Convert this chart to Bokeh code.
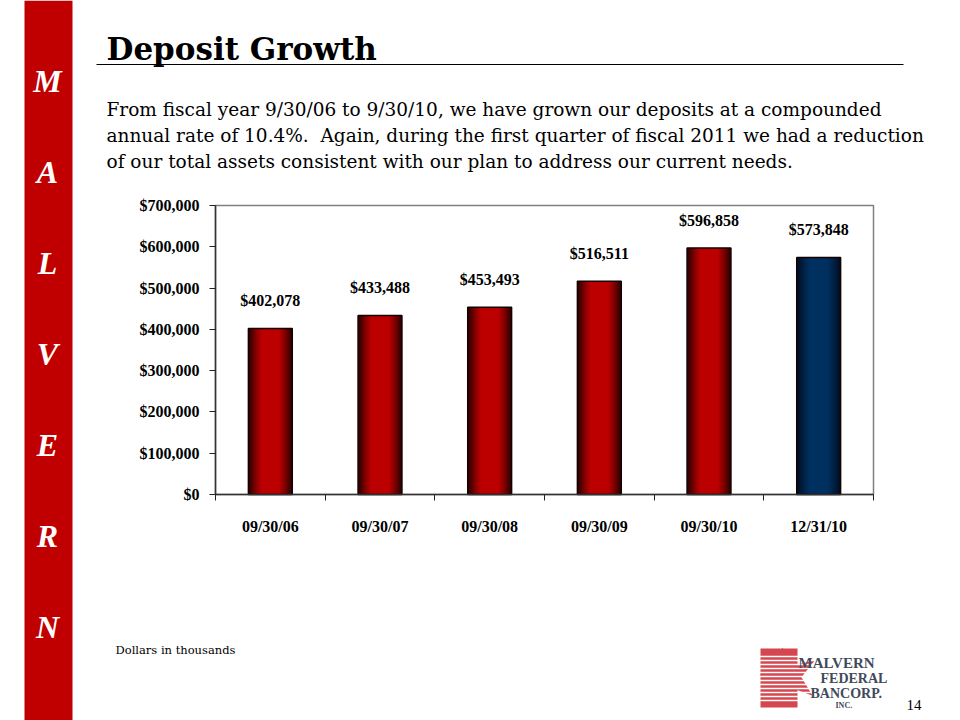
from bokeh.plotting import figure
from bokeh.models import (Range1d, FixedTicker, NumeralTickFormatter, ColumnDataSource,
                          LinearAxis)
from bokeh.core.properties import value
from bokeh.embed import file_html
from bokeh.resources import INLINE
import math

# ---------------- data ----------------
categories = ["09/30/06", "09/30/07", "09/30/08", "09/30/09", "09/30/10", "12/31/10"]
deposits = [402078, 433488, 453493, 516511, 596858, 573848]
bar_kind = ["fiscal", "fiscal", "fiscal", "fiscal", "fiscal", "quarter"]
y_ticks = [0, 100000, 200000, 300000, 400000, 500000, 600000, 700000]

title_text = "Deposit Growth"
body_lines = [
    "From fiscal year 9/30/06 to 9/30/10, we have grown our deposits at a compounded",
    "annual rate of 10.4%.\u00a0 Again, during the first quarter of fiscal 2011 we had a reduction",
    "of our total assets consistent with our plan to address our current needs.",
]
side_letters = ["M", "A", "L", "V", "E", "R", "N"]
note_text = "Dollars in thousands"
page_number = "14"
logo_lines = ["MALVERN", "FEDERAL", "BANCORP.", "INC."]

# ---------------- page geometry (pixels) ----------------
PAGE_W, PAGE_H = 960, 720
FL, FT, FW, FH = 215, 205, 658, 289          # chart plot area on the page
FB = FT + FH
N = len(categories)
Y_MAX = y_ticks[-1]

p = figure(width=PAGE_W, height=PAGE_H, x_range=Range1d(0, PAGE_W),
           y_range=Range1d(PAGE_H, 0), output_backend="svg", toolbar_location=None,
           x_axis_location=None, y_axis_location=None,
           min_border=0, min_border_left=0, min_border_right=0,
           min_border_top=0, min_border_bottom=0)
p.grid.visible = False
p.outline_line_color = None
p.background_fill_color = "white"
p.border_fill_color = "white"

# chart scales mapped onto the plot area of the page
px_cat = FW / N
px_dep = FH / Y_MAX
p.extra_x_ranges = {"cat": Range1d(-FL / px_cat, N + (PAGE_W - FL - FW) / px_cat)}
p.extra_y_ranges = {"dep": Range1d(-(PAGE_H - FB) / px_dep, Y_MAX + FT / px_dep)}
CH = dict(x_range_name="cat", y_range_name="dep")


def put(text, x, y, size, font="DejaVu Serif", style="normal", color="black",
        align="left", baseline="alphabetic"):
    p.text(x=[x], y=[y], text=[text], text_font=value(font), text_font_style=style,
           text_font_size=size, text_color=color, text_align=align,
           text_baseline=baseline)


# ---------------- left red band ----------------
p.quad(left=[24], right=[72], top=[0], bottom=[PAGE_H], fill_color="#c00000",
       line_color=None)
for i, letter in enumerate(side_letters):
    put(letter, 47, 80 + i * 91, "32px", font="Liberation Serif",
        style="bold italic", color="white", align="center", baseline="middle")

# ---------------- header ----------------
put(title_text, 106, 48, "31px", font="DejaVu Serif", style="bold")
p.segment(x0=[96], x1=[903], y0=[64], y1=[64], line_color="black", line_width=1)
for i, line in enumerate(body_lines):
    put(line, 106, 109 + i * 26, "18.5px")

# ---------------- chart ----------------
centers = [i + 0.5 for i in range(N)]
bounds = list(range(N + 1))

p.quad(left=[0], right=[N], bottom=[0], top=[Y_MAX], fill_color=None,
       line_color="#808080", line_width=1.5, **CH)

edge = {"fiscal": (45, 0, 0), "quarter": (0, 14, 34)}
mid = {"fiscal": (196, 0, 0), "quarter": (0, 50, 100)}


def shade(kind, f):
    t = 0.0 if f <= 0.35 else min(1.0, (f - 0.35) / 0.65)
    t = t ** 1.3
    a, b = mid[kind], edge[kind]
    return "#%02x%02x%02x" % tuple(int(round(a[i] + (b[i] - a[i]) * t)) for i in range(3))


BAR_W = 0.40
fracs = [1.0, 0.93, 0.86, 0.79, 0.72, 0.65, 0.58, 0.5, 0.42]
for f in fracs:
    src = ColumnDataSource(dict(x=centers, top=deposits,
                                color=[shade(k, f) for k in bar_kind]))
    p.vbar(x="x", top="top", width=BAR_W * f, bottom=0, source=src,
           fill_color="color", line_color=None, **CH)
p.vbar(x=centers, top=deposits, width=BAR_W, bottom=0, fill_alpha=0,
       line_color="#140000", line_width=1.5, **CH)

p.text(x=centers, y=deposits, text=["$" + format(v, ",") for v in deposits],
       y_offset=-28, text_align="center", text_baseline="middle",
       text_font=value("Liberation Serif"), text_font_style="bold",
       text_font_size="16px", text_color="black", **CH)

xax = LinearAxis(fixed_location=0, bounds=(0, N), **CH)
xax.ticker = FixedTicker(ticks=centers, minor_ticks=bounds)
xax.major_label_overrides = {c: lab for c, lab in zip(centers, categories)}
xax.major_tick_line_color = None
xax.major_tick_out = 0
xax.minor_tick_out = 6
xax.minor_tick_in = 0
xax.minor_tick_line_color = "#222222"
xax.axis_line_color = "#333333"
xax.axis_line_width = 1.5
xax.major_label_standoff = 17
xax.major_label_text_font = "Liberation Serif"
xax.major_label_text_font_style = "bold"
xax.major_label_text_font_size = "16px"
xax.major_label_text_color = "black"
p.add_layout(xax, "below")

yax = LinearAxis(fixed_location=0, bounds=(0, Y_MAX), **CH)
yax.ticker = FixedTicker(ticks=y_ticks)
yax.formatter = NumeralTickFormatter(format="$0,0")
yax.major_tick_out = 6
yax.major_tick_in = 0
yax.minor_tick_line_color = None
yax.axis_line_color = "#333333"
yax.axis_line_width = 1.5
yax.major_tick_line_color = "#222222"
yax.major_label_standoff = 10
yax.major_label_text_font = "Liberation Serif"
yax.major_label_text_font_style = "bold"
yax.major_label_text_font_size = "16px"
yax.major_label_text_color = "black"
p.add_layout(yax, "left")

# ---------------- footer ----------------
put(note_text, 115, 649, "11.5px")
put(page_number, 906, 704, "15px", font="Liberation Serif")

# logo: striped red block and star, company name
logo_red = "#d4474f"
p.quad(left=[760], right=[797], top=[648], bottom=[707], fill_color=logo_red,
       line_color=None)
cx, cy, ro, ri = 789, 676, 30, 12
xs, ys = [], []
for k in range(10):
    ang = math.pi / 2 + k * math.pi / 5 + 0.25
    r = ro if k % 2 == 0 else ri
    xs.append(cx + r * math.cos(ang))
    ys.append(cy - r * math.sin(ang))
p.patch(xs, ys, fill_color=logo_red, line_color=None)
stripe_y = [656 + k * 4 for k in range(12)]
p.segment(x0=[755] * len(stripe_y), x1=[824] * len(stripe_y), y0=stripe_y, y1=stripe_y,
          line_color="white", line_width=1.5)
logo_c = "#3f4a5a"
put(logo_lines[0], 798, 662, "15px", font="Liberation Serif", style="bold", color=logo_c)
put(logo_lines[1], 820, 678, "14px", font="Liberation Serif", style="bold", color=logo_c)
put(logo_lines[2], 810, 693, "14px", font="Liberation Serif", style="bold", color=logo_c)
put(logo_lines[3], 835, 705, "8px", font="Liberation Serif", style="bold", color=logo_c)

open("out.html", "w").write(file_html(p, INLINE))
